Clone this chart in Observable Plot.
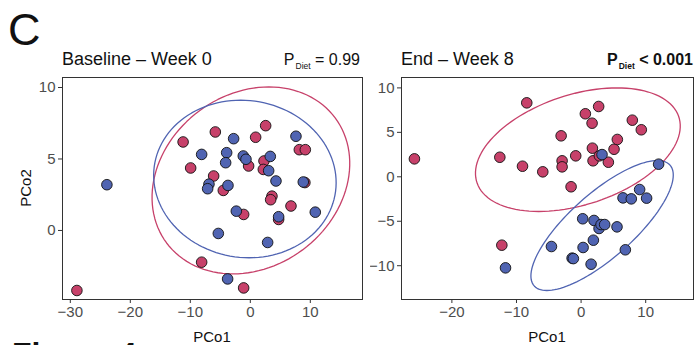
<!DOCTYPE html>
<html>
<head>
<meta charset="utf-8">
<script src="https://cdn.jsdelivr.net/npm/d3@7"></script>
<script src="https://cdn.jsdelivr.net/npm/@observablehq/plot@0.6"></script>
<style>
  body { margin: 0; background: #fff; }
  #wrap { position: relative; width: 696px; height: 345px; overflow: hidden; font-family: "Liberation Sans", Arial, sans-serif; }
  #wrap > svg, #wrap > div { position: absolute; }
  #overlay { left: 0; top: 0; pointer-events: none; }
</style>
</head>
<body>
<div id="wrap"></div>
<script>
// ---------------- data ----------------
const baselineRed = [[-11.2,6.19],[-5.83,6.89],[2.56,7.33],[0.89,6.52],[8.17,5.65],[9.17,5.65],[-9.94,4.37],[-0.28,4.51],[2.28,4.86],[2.17,4.27],[9.1,3.35],[-6.11,3.81],[-4.5,2.8],[3.61,2.4],[3.39,2.15],[6.78,1.71],[-1.11,1.12],[4.72,0.77],[-8.11,-2.22],[-1.11,-4.02],[-28.9,-4.2]];
const baselineBlue = [[-23.9,3.2],[-2.78,6.42],[7.61,6.59],[-8.11,5.32],[-3.94,5.44],[-4.11,4.74],[-1.17,5.21],[-0.72,4.98],[3.33,5.18],[3.06,4.18],[4.28,3.46],[8.83,3.39],[-6.89,3.24],[-7.11,2.92],[-3.72,3.15],[-2.33,1.35],[4.72,0.96],[10.83,1.28],[-5.33,-0.21],[2.89,-0.84],[-3.78,-3.39]];
const endRed = [[-25.8,2.02],[-8.41,8.32],[-12.58,2.2],[-9.07,1.19],[-5.93,0.56],[-3.09,4.61],[-2.94,1.8],[-2.94,1.12],[-0.83,2.36],[-1.55,-1.12],[0.66,7.09],[1.7,6.03],[2.72,7.91],[1.75,3.22],[1.85,1.8],[4.22,1.64],[5.1,3.1],[5.61,4.2],[7.93,6.37],[9.32,5.29],[-12.27,-7.69],[2.83,2.36]];
const endBlue = [[3.24,2.5],[12.0,1.42],[9.06,-1.43],[6.49,-2.37],[7.77,-2.48],[10.14,-2.4],[0.25,-4.72],[2.0,-4.91],[2.78,-5.81],[3.09,-5.37],[3.65,-5.37],[5.56,-5.63],[1.9,-7.13],[0.31,-7.95],[-4.59,-7.84],[-1.39,-9.15],[-1.2,-9.2],[1.55,-9.83],[6.85,-8.21],[-11.7,-10.24]];

// ellipse outlines: [cx, cy, p, r, q] with x = cx + p cos t + r sin t, y = cy + q sin t
const baselineRedEllipse = [0.1, 3.5, 16.2, 3.0, 6.54];
const baselineBlueEllipse = [-0.9, 3.6, 15.19, -0.7, 5.51];
const endRedEllipse = [-0.5, 3.05, 14.65, 6.05, 6.95];
const endBlueEllipse = [3.25, -5.48, 6.95, 8.55, 7.31];

const baselineXTicks = [-30, -20, -10, 0, 10];
const baselineYTicks = [0, 5, 10];
const endXTicks = [-20, -10, 0, 10];
const endYTicks = [-10, -5, 0, 5, 10];

const RED = "#c7416a";
const BLUE = "#5064b2";
const FONT = "Liberation Sans, Arial, sans-serif";

function ellipsePath(e) {
  const [cx, cy, p, r, q] = e;
  const pts = [];
  for (let i = 0; i <= 120; i++) {
    const t = (i / 120) * 2 * Math.PI;
    pts.push([cx + p * Math.cos(t) + r * Math.sin(t), cy + q * Math.sin(t)]);
  }
  return pts;
}

function panel({red, blue, redE, blueE, xDomain, yDomain, xTicks, yTicks, width, marginLeft, marginRight}) {
  return Plot.plot({
    width, height: 275,
    marginLeft, marginRight, marginTop: 7, marginBottom: 46,
    style: {fontFamily: FONT, fontSize: "15px", background: "transparent"},
    x: {domain: xDomain},
    y: {domain: yDomain},
    marks: [
      Plot.line(ellipsePath(redE), {x: d => d[0], y: d => d[1], stroke: RED, strokeWidth: 1.3}),
      Plot.line(ellipsePath(blueE), {x: d => d[0], y: d => d[1], stroke: BLUE, strokeWidth: 1.3}),
      Plot.dot(red, {x: d => d[0], y: d => d[1], r: 5.3, fill: RED, stroke: "#111", strokeWidth: 0.9}),
      Plot.dot(blue, {x: d => d[0], y: d => d[1], r: 5.3, fill: BLUE, stroke: "#111", strokeWidth: 0.9}),
      Plot.frame({stroke: "#333", strokeWidth: 1}),
      Plot.axisX({ticks: xTicks, tickSize: 4, tickPadding: 3, label: null, stroke: "#333", fill: "#4d4d4d"}),
      Plot.axisY({ticks: yTicks, tickSize: 4, tickPadding: 3, label: null, stroke: "#333", fill: "#4d4d4d"})
    ]
  });
}

const wrap = document.getElementById("wrap");

const left = panel({red: baselineRed, blue: baselineBlue, redE: baselineRedEllipse, blueE: baselineBlueEllipse,
  xDomain: [-31.3, 18.7], yDomain: [-4.83, 10.7], xTicks: baselineXTicks, yTicks: baselineYTicks,
  width: 370, marginLeft: 62, marginRight: 8});
left.style.left = "0px"; left.style.top = "70px"; left.style.position = "absolute";
wrap.appendChild(left);

const right = panel({red: endRed, blue: endBlue, redE: endRedEllipse, blueE: endBlueEllipse,
  xDomain: [-27.8, 17.4], yDomain: [-13.8, 11.17], xTicks: endXTicks, yTicks: endYTicks,
  width: 326, marginLeft: 31, marginRight: 3});
right.style.left = "370px"; right.style.top = "70px"; right.style.position = "absolute";
wrap.appendChild(right);

// text overlay
const ns = "http://www.w3.org/2000/svg";
const ov = document.createElementNS(ns, "svg");
ov.setAttribute("id", "overlay");
ov.setAttribute("width", 696); ov.setAttribute("height", 345);
ov.style.position = "absolute";
ov.style.fontFamily = FONT;
wrap.appendChild(ov);

function txt(x, y, s, opts = {}) {
  const t = document.createElementNS(ns, "text");
  t.setAttribute("x", x); t.setAttribute("y", y);
  t.setAttribute("font-size", opts.size || 15);
  t.setAttribute("fill", opts.fill || "#111");
  if (opts.anchor) t.setAttribute("text-anchor", opts.anchor);
  if (opts.weight) t.setAttribute("font-weight", opts.weight);
  if (opts.transform) t.setAttribute("transform", opts.transform);
  t.textContent = s;
  ov.appendChild(t);
  return t;
}
function pdiet(xEnd, y, rest, weight) {
  const t = document.createElementNS(ns, "text");
  t.setAttribute("x", xEnd); t.setAttribute("y", y);
  t.setAttribute("text-anchor", "end");
  t.setAttribute("font-size", 16);
  t.setAttribute("fill", "#111");
  if (weight) t.setAttribute("font-weight", weight);
  const a = document.createElementNS(ns, "tspan"); a.textContent = "P";
  const b = document.createElementNS(ns, "tspan"); b.textContent = "Diet";
  b.setAttribute("font-size", 8.5); b.setAttribute("dy", 4); b.setAttribute("dx", 1);
  const c = document.createElementNS(ns, "tspan"); c.textContent = rest;
  c.setAttribute("dy", -4);
  t.appendChild(a); t.appendChild(b); t.appendChild(c);
  ov.appendChild(t);
}

txt(8, 45, "C", {size: 45});
txt(62, 65, "Baseline – Week 0", {size: 18});
pdiet(360, 65, " = 0.99");
txt(401, 65, "End – Week 8", {size: 18});
pdiet(693, 65, " < 0.001", "bold");
txt(31, 188, "PCo2", {size: 15, anchor: "middle", transform: "rotate(-90 31 188)"});
txt(212, 342, "PCo1", {size: 15, anchor: "middle"});
txt(547, 342, "PCo1", {size: 15, anchor: "middle"});
txt(12, 365, "Figure 4", {size: 32, weight: "bold"});
</script>
</body>
</html>
